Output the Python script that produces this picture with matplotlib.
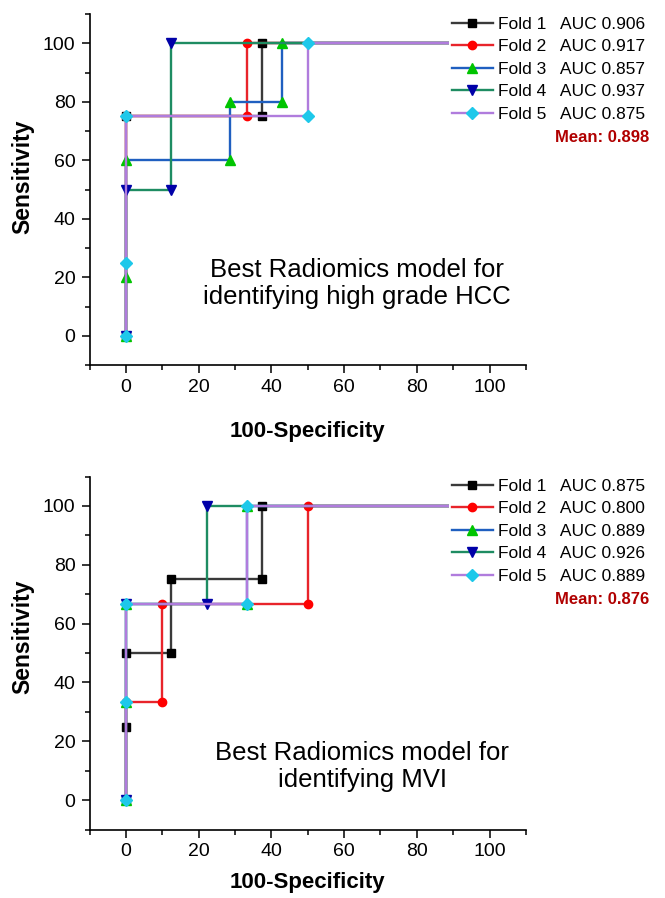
import matplotlib
matplotlib.use("Agg")
import matplotlib.pyplot as plt
from matplotlib.ticker import MultipleLocator

plt.rcParams['font.family'] = ['Liberation Sans', 'DejaVu Sans']

# ---- dados: painel superior (high grade HCC) ----
hcc_f1_x = [0, 0, 37.5, 37.5, 100]
hcc_f1_y = [0, 75, 75, 100, 100]
hcc_f2_x = [0, 0, 33.3, 33.3, 100]
hcc_f2_y = [0, 75, 75, 100, 100]
hcc_f3_x = [0, 0, 0, 28.6, 28.6, 42.9, 42.9, 100]
hcc_f3_y = [0, 20, 60, 60, 80, 80, 100, 100]
hcc_f4_x = [0, 0, 12.5, 12.5, 100]
hcc_f4_y = [0, 50, 50, 100, 100]
hcc_f5_x = [0, 0, 0, 50, 50, 100]
hcc_f5_y = [0, 25, 75, 75, 100, 100]
hcc_auc = ["0.906", "0.917", "0.857", "0.937", "0.875"]
hcc_mean = "0.898"

# ---- dados: painel inferior (MVI) ----
mvi_f1_x = [0, 0, 0, 12.5, 12.5, 37.5, 37.5, 100]
mvi_f1_y = [0, 25, 50, 50, 75, 75, 100, 100]
mvi_f2_x = [0, 0, 10, 10, 50, 50, 100]
mvi_f2_y = [0, 33.3, 33.3, 66.7, 66.7, 100, 100]
mvi_f3_x = [0, 0, 0, 33.3, 33.3, 100]
mvi_f3_y = [0, 33.3, 66.7, 66.7, 100, 100]
mvi_f4_x = [0, 0, 22.2, 22.2, 100]
mvi_f4_y = [0, 66.7, 66.7, 100, 100]
mvi_f5_x = [0, 0, 0, 33.3, 33.3, 100]
mvi_f5_y = [0, 33.3, 66.7, 66.7, 100, 100]
mvi_auc = ["0.875", "0.800", "0.889", "0.926", "0.889"]
mvi_mean = "0.876"

fold_names = ["Fold 1", "Fold 2", "Fold 3", "Fold 4", "Fold 5"]

# estilo de cada fold: (cor da linha, marcador, cor do marcador, tamanho)
styles = [
    ('#3a3a3a', 's', '#000000', 6),
    ('#e8242b', 'o', '#ff0000', 6),
    ('#1f5fc0', '^', '#00c400', 7),
    ('#1e8c62', 'v', '#0000a8', 7),
    ('#b07cdd', 'D', '#1ec8ea', 6),
]

W, H = 665, 898
fig = plt.figure(figsize=(W / 100, H / 100), dpi=100)


def draw_panel(ax, xs, ys, aucs, mean, title, leg_top_px, mean_px, ylab_y, xlab_y):
    for i in range(5):
        lc, mk, mc, ms = styles[i]
        ax.plot(xs[i], ys[i], color=lc, lw=1.7, marker=mk, markersize=ms,
                markerfacecolor=mc, markeredgecolor=mc,
                label=f"{fold_names[i]}   AUC {aucs[i]}")

    ax.set_xlim(-10, 110)
    ax.set_ylim(-10, 110)
    ax.xaxis.set_major_locator(MultipleLocator(20))
    ax.xaxis.set_minor_locator(MultipleLocator(10))
    ax.yaxis.set_major_locator(MultipleLocator(20))
    ax.yaxis.set_minor_locator(MultipleLocator(10))
    ax.set_xticks(range(0, 101, 20))
    ax.set_yticks(range(0, 101, 20))
    ax.tick_params(which='major', direction='out', length=6, width=1.1,
                   labelsize=14, pad=4)
    ax.tick_params(which='minor', direction='out', length=3.5, width=1.1)
    for s in ['top', 'right']:
        ax.spines[s].set_visible(False)
    for s in ['left', 'bottom']:
        ax.spines[s].set_linewidth(1.2)

    ax.set_xlabel("100-Specificity", fontsize=16, fontweight='bold')
    ax.set_ylabel("Sensitivity", fontsize=16.5, fontweight='bold')
    ax.xaxis.label.set_va('baseline')
    ax.xaxis.set_label_coords(0.5, xlab_y)
    ax.yaxis.set_label_coords(-0.127, ylab_y)

    ax.text(title[1], title[2], title[0], fontsize=18.5, ha='center',
            va='center', linespacing=1.15)

    ax.legend(loc='upper left', bbox_to_anchor=(448.5 / W, 1 - leg_top_px / H),
              bbox_transform=fig.transFigure, fontsize=12.5, frameon=True,
              facecolor='white', edgecolor='none', framealpha=1,
              borderpad=0.2, borderaxespad=0, handlelength=2.35,
              handletextpad=0.3, labelspacing=0.43, fancybox=False)
    fig.text(649 / W, 1 - mean_px / H, f"Mean: {mean}", ha='right', va='center',
             fontsize=12, fontweight='bold', color='#b00000')


ax1 = fig.add_axes([89.5 / W, 1 - 365 / H, 436.5 / W, 351 / H])
draw_panel(ax1,
           [hcc_f1_x, hcc_f2_x, hcc_f3_x, hcc_f4_x, hcc_f5_x],
           [hcc_f1_y, hcc_f2_y, hcc_f3_y, hcc_f4_y, hcc_f5_y],
           hcc_auc, hcc_mean,
           ("Best Radiomics model for\nidentifying high grade HCC", 63.5, 18),
           leg_top_px=13, mean_px=137, ylab_y=0.536, xlab_y=-0.205)

ax2 = fig.add_axes([89.5 / W, 1 - 829.5 / H, 436.5 / W, 353 / H])
draw_panel(ax2,
           [mvi_f1_x, mvi_f2_x, mvi_f3_x, mvi_f4_x, mvi_f5_x],
           [mvi_f1_y, mvi_f2_y, mvi_f3_y, mvi_f4_y, mvi_f5_y],
           mvi_auc, mvi_mean,
           ("Best Radiomics model for\nidentifying MVI", 65, 11.5),
           leg_top_px=475, mean_px=599, ylab_y=0.545, xlab_y=-0.166)

fig.savefig("out.png", dpi=100)
